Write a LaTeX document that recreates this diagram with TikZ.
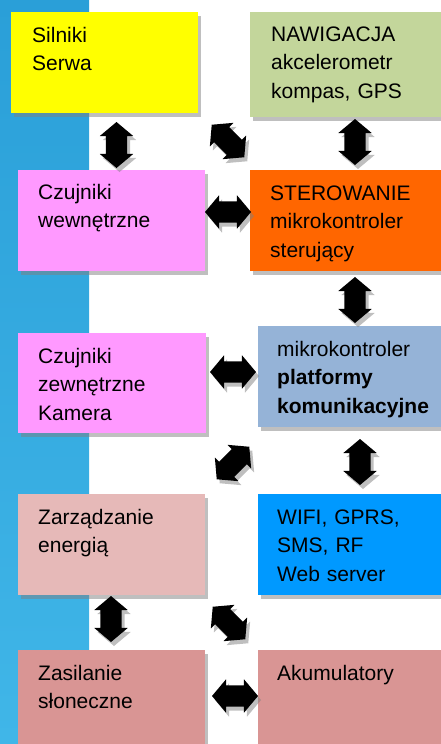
\documentclass[tikz,border=0pt]{standalone}
\usepackage{fontspec}
\setmainfont{Liberation Sans}
\usetikzlibrary{shapes.arrows,shadows}
\definecolor{stripTop}{HTML}{2A9FD8}
\definecolor{stripBot}{HTML}{40B6E8}
\definecolor{cYellow}{HTML}{FFFF00}
\definecolor{cGreen}{HTML}{C3D69B}
\definecolor{cPink}{HTML}{FF99FF}
\definecolor{cOrange}{HTML}{FF6600}
\definecolor{cSteel}{HTML}{95B3D7}
\definecolor{cRoseLight}{HTML}{E6B9B8}
\definecolor{cWifi}{HTML}{0099FF}
\definecolor{cRose}{HTML}{D99594}
\definecolor{cShadow}{HTML}{808080}
\begin{document}
\begin{tikzpicture}[x=1pt,y=-1pt,
  shad/.style={drop shadow={shadow xshift=3pt,shadow yshift=-4pt,fill=cShadow,opacity=0.5}},
  box/.style={rectangle,draw=none,inner sep=0,shad},
  lbl/.style={anchor=base west,inner sep=0,text width=185pt,align=left,
    font=\fontsize{21}{28.5}\selectfont},
  dbl/.style={double arrow,fill=black,draw=none,inner sep=0,inner ysep=10.5pt,
    double arrow head extend=6pt,double arrow tip angle=100,
    minimum height=46pt,shad}]
\useasboundingbox (0,0) rectangle (441,744);
\clip (0,0) rectangle (441,744);
% left strip
\shade[top color=stripTop,bottom color=stripBot] (0,0) rectangle (89,744);
% boxes
\path (11,12) node[box,fill=cYellow,anchor=north west,minimum width=187pt,minimum height=101pt] (silniki) {};
\path (250,12) node[box,fill=cGreen,anchor=north west,minimum width=210pt,minimum height=105pt] (nawig) {};
\path (18,170) node[box,fill=cPink,anchor=north west,minimum width=187pt,minimum height=101pt] (wewn) {};
\path (250,170) node[box,fill=cOrange,anchor=north west,minimum width=210pt,minimum height=101pt] (sterow) {};
\path (18,333) node[box,fill=cPink,anchor=north west,minimum width=188pt,minimum height=100pt] (zewn) {};
\path (258,326) node[box,fill=cSteel,anchor=north west,minimum width=202pt,minimum height=101pt] (platf) {};
\path (18,494) node[box,fill=cRoseLight,anchor=north west,minimum width=187pt,minimum height=101pt] (energ) {};
\path (258,494) node[box,fill=cWifi,anchor=north west,minimum width=202pt,minimum height=101pt] (wifi) {};
\path (18,650) node[box,fill=cRose,anchor=north west,minimum width=187pt,minimum height=110pt] (zasil) {};
\path (258,650) node[box,fill=cRose,anchor=north west,minimum width=202pt,minimum height=110pt] (akum) {};
% texts
\node[lbl] (tSilniki) at ([xshift=21pt,yshift=-30pt]silniki.north west) {Silniki\\Serwa};
\node[lbl] (tNawig) at ([xshift=21pt,yshift=-29pt]nawig.north west) {NAWIGACJA\\akcelerometr\\kompas, GPS};
\node[lbl] (tWewn) at ([xshift=20pt,yshift=-29pt]wewn.north west) {Czujniki\\wewnętrzne};
\node[lbl] (tSterow) at ([xshift=20pt,yshift=-30pt]sterow.north west) {STEROWANIE\\mikrokontroler\\sterujący};
\node[lbl] (tZewn) at ([xshift=20pt,yshift=-30pt]zewn.north west) {Czujniki\\zewnętrzne\\Kamera};
\node[lbl] (tPlatf) at ([xshift=19pt,yshift=-30pt]platf.north west) {mikrokontroler\\\textbf{platformy}\\\textbf{komunikacyjne}};
\node[lbl] (tEnerg) at ([xshift=20pt,yshift=-30pt]energ.north west) {Zarządzanie\\energią};
\node[lbl] (tWifi) at ([xshift=19pt,yshift=-30pt]wifi.north west) {WIFI, GPRS,\\SMS, RF\\Web server};
\node[lbl] (tZasil) at ([xshift=20pt,yshift=-30pt]zasil.north west) {Zasilanie\\słoneczne};
\node[lbl] (tAkum) at ([xshift=19pt,yshift=-30pt]akum.north west) {Akumulatory};
% block arrows
\node[dbl,rotate=90] (a1) at (116.5,145) {};
\node[dbl,rotate=-45] (a2) at (228,141) {};
\node[dbl,rotate=90] (a3) at (355,142) {};
\node[dbl] (a4) at (228,212) {};
\node[dbl,rotate=90] (a5) at (355,300) {};
\node[dbl] (a6) at (233,372) {};
\node[dbl,rotate=45] (a7) at (233,463) {};
\node[dbl,rotate=90] (a8) at (360,462) {};
\node[dbl,rotate=90] (a9) at (111,619) {};
\node[dbl,rotate=-45] (a10) at (229,623) {};
\node[dbl] (a11) at (235,696) {};
\end{tikzpicture}
\end{document}
